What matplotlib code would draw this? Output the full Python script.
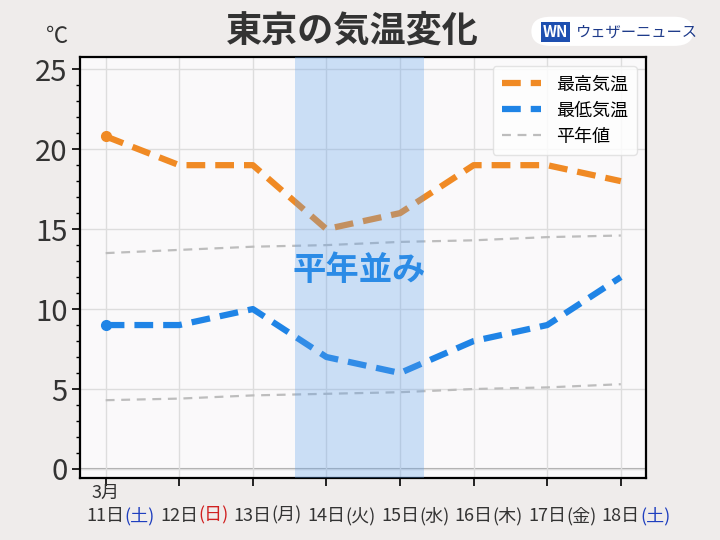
import matplotlib
matplotlib.use("Agg")
import matplotlib.pyplot as plt
from matplotlib.ticker import MultipleLocator
from matplotlib.patches import FancyBboxPatch

plt.rcParams['font.family'] = ['Noto Sans CJK JP', 'DejaVu Sans']

# data
days = [11, 12, 13, 14, 15, 16, 17, 18]
weekdays = ['(土)', '(日)', '(月)', '(火)', '(水)', '(木)', '(金)', '(土)']
max_temp = [20.8, 19, 19, 15, 16, 19, 19, 18]
min_temp = [9, 9, 10, 7, 6, 8, 9, 12]
normal_max = [13.5, 13.7, 13.9, 14.0, 14.2, 14.3, 14.5, 14.6]
normal_min = [4.3, 4.4, 4.6, 4.7, 4.8, 5.0, 5.1, 5.3]
band = (13.57, 15.33)

orange = '#f08a24'
blue = '#1f84e6'
gray = '#bdbdbd'
text_col = '#333333'

fig = plt.figure(figsize=(7.2, 5.4), dpi=100, facecolor='#efeceb')
ax = fig.add_axes([0.111, 0.115, 0.786, 0.779])
ax.set_facecolor('#faf9fa')

h_nor, = ax.plot(days, normal_max, color=gray, lw=1.6, dashes=(4, 3), zorder=2)
ax.plot(days, normal_min, color=gray, lw=1.6, dashes=(4, 3), zorder=2)
h_max, = ax.plot(days, max_temp, color=orange, lw=4.5, dashes=(3, 1.6), zorder=3)
h_min, = ax.plot(days, min_temp, color=blue, lw=4.5, dashes=(3, 1.6), zorder=3)
ax.plot(days[0], max_temp[0], 'o', color=orange, ms=7, zorder=3)
ax.plot(days[0], min_temp[0], 'o', color=blue, ms=7, zorder=3)

ax.axvspan(band[0], band[1], color='#5da0ec', alpha=0.3, lw=0, zorder=4)
ax.text(sum(band) / 2, 12.4, '平年並み', color='#2b8be6', fontsize=24,
        fontweight='bold', ha='center', va='center', zorder=5)

ax.axhline(0, color='#aaaaaa', lw=1.5, zorder=1)
ax.set_xlim(10.65, 18.34)
ax.set_ylim(-0.56, 25.75)
ax.set_xticks(days)
ax.set_xticklabels([])
ax.yaxis.set_major_locator(MultipleLocator(5))
ax.yaxis.set_minor_locator(MultipleLocator(1))
ax.tick_params(axis='y', which='major', labelsize=21, labelcolor=text_col,
               length=6, width=1.2, pad=3)
ax.tick_params(axis='y', which='minor', length=3, width=1)
ax.tick_params(axis='x', length=6, width=1.2)
ax.grid(True, color='#dddddd', lw=1, zorder=0)
for s in ax.spines.values():
    s.set_color('black')
    s.set_linewidth(1.6)

# x labels: day number centred on tick, weekday appended in colour
tr = ax.get_xaxis_transform()
ax.text(days[0], -0.036, '3月', transform=tr, ha='center', va='center',
        fontsize=13, color=text_col)
for d, w in zip(days, weekdays):
    t = ax.text(d, -0.09, f'{d}日', transform=tr, ha='center', va='center',
                fontsize=13, color=text_col)
    c = text_col
    if w == '(土)':
        c = '#1f3fbf'
    elif w == '(日)':
        c = '#d02020'
    ax.annotate(w, xy=(1, 0.5), xycoords=t, ha='left', va='center',
                fontsize=13, color=c)

leg = ax.legend([h_max, h_min, h_nor], ['最高気温', '最低気温', '平年値'],
                loc='upper right', fontsize=13, handlelength=2.2,
                frameon=True, borderpad=0.5, labelspacing=0.45)
leg.get_frame().set_edgecolor('#dddddd')
leg.get_frame().set_facecolor('white')
leg.set_zorder(6)

fig.text(0.49, 0.943, '東京の気温変化', fontsize=26, fontweight='bold',
         color=text_col, ha='center', va='center')
fig.text(0.08, 0.933, '℃', fontsize=16, color=text_col, ha='center', va='center')

# weathernews logo
fig.patches.append(FancyBboxPatch((0.738, 0.915), 0.225, 0.054,
                                  boxstyle='round,pad=0,rounding_size=0.027',
                                  transform=fig.transFigure, fc='white', ec='none',
                                  zorder=0))
fig.text(0.772, 0.941, 'WN', fontsize=11, fontweight='bold', style='italic',
         color='white', ha='center', va='center', zorder=2,
         bbox=dict(boxstyle='square,pad=0.12', fc='#1d4fb0', ec='none'))
fig.text(0.8, 0.941, 'ウェザーニュース', fontsize=11, color='#1d3a8a',
         ha='left', va='center', zorder=2)

fig.savefig('out.png', dpi=100, facecolor=fig.get_facecolor())
